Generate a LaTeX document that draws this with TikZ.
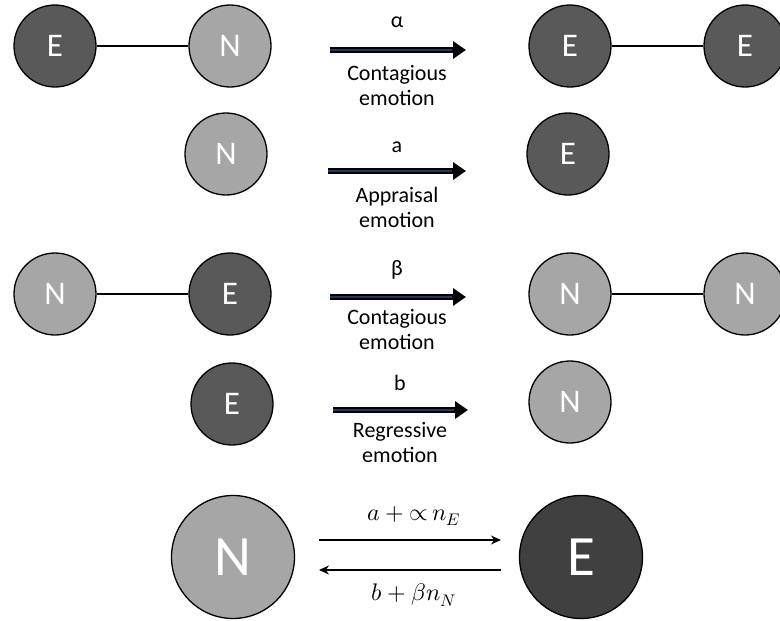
\documentclass[tikz,border=0pt]{standalone}
\usepackage{fontspec}
\setmainfont{Carlito}
\usepackage{unicode-math}
\usetikzlibrary{arrows.meta}
\definecolor{egray}{HTML}{595959}
\definecolor{ebig}{HTML}{404040}
\definecolor{ngray}{HTML}{A6A6A6}
\definecolor{arrin}{HTML}{203864}
\tikzset{
  enode/.style={circle,draw=black,line width=1.3pt,fill=egray,text=white,minimum size=82pt,inner sep=0pt,font=\fontsize{33}{33}\selectfont},
  nnode/.style={circle,draw=black,line width=1.3pt,fill=ngray,text=white,minimum size=82pt,inner sep=0pt,font=\fontsize{33}{33}\selectfont},
  bige/.style={enode,fill=ebig,minimum size=123pt,font=\fontsize{57}{57}\selectfont},
  bign/.style={nnode,minimum size=123pt,font=\fontsize{57}{57}\selectfont},
  link/.style={line width=1.3pt},
  lbl/.style={font=\fontsize{22}{25}\selectfont,align=center},
  rate/.style={font=\fontsize{24}{24}\selectfont},
  fatarrow/.style={line width=6pt,-{Triangle[length=13pt,width=17pt]}},
  fatinner/.style={line width=2pt,arrin},
  thinarrow/.style={line width=1.2pt,-{Stealth[length=10pt,width=9pt]}}
}
\begin{document}
\begin{tikzpicture}[x=1pt,y=-1pt]
\useasboundingbox (0,0) rectangle (780,621);
% row 1
\node[enode] (e1) at (55,46) {E};
\node[nnode] (n1) at (230,46) {N};
\draw[link] (e1) -- (n1);
\coordinate (a1s) at (330,50); \coordinate (a1e) at (466,50); \coordinate (a1i) at (452,50);
\draw[fatarrow] (a1s) -- (a1e);
\draw[fatinner] (a1s) -- (a1i);
\node[lbl] (t1) at (397,22) {α};
\node[lbl] (c1) at (397,86) {Contagious\\emotion};
\node[enode] (e2) at (570,46) {E};
\node[enode] (e3) at (745,46) {E};
\draw[link] (e2) -- (e3);
% row 2
\node[nnode] (n2) at (226,154) {N};
\coordinate (a2s) at (328,171); \coordinate (a2e) at (466,171); \coordinate (a2i) at (452,171);
\draw[fatarrow] (a2s) -- (a2e);
\draw[fatinner] (a2s) -- (a2i);
\node[lbl] (t2) at (397,147) {a};
\node[lbl] (c2) at (397,207) {Appraisal\\emotion};
\node[enode] (e4) at (568,154) {E};
% row 3
\node[nnode] (n3) at (55,294) {N};
\node[enode] (e5) at (230,294) {E};
\draw[link] (n3) -- (e5);
\coordinate (a3s) at (330,297); \coordinate (a3e) at (466,297); \coordinate (a3i) at (452,297);
\draw[fatarrow] (a3s) -- (a3e);
\draw[fatinner] (a3s) -- (a3i);
\node[lbl] (t3) at (397,270) {β};
\node[lbl] (c3) at (397,330) {Contagious\\emotion};
\node[nnode] (n4) at (570,294) {N};
\node[nnode] (n5) at (745,294) {N};
\draw[link] (n4) -- (n5);
% row 4
\node[enode] (e6) at (232,404) {E};
\coordinate (a4s) at (333,410); \coordinate (a4e) at (468,410); \coordinate (a4i) at (454,410);
\draw[fatarrow] (a4s) -- (a4e);
\draw[fatinner] (a4s) -- (a4i);
\node[lbl] (t4) at (400,383) {b};
\node[lbl] (c4) at (400,443) {Regressive\\emotion};
\node[nnode] (n6) at (570,402) {N};
% bottom
\node[bign] (bn) at (233,557) {N};
\node[bige] (be) at (581,557) {E};
\coordinate (b1s) at (319,540); \coordinate (b1e) at (501,540);
\coordinate (b2s) at (501,570); \coordinate (b2e) at (319,570);
\draw[thinarrow] (b1s) -- (b1e);
\draw[thinarrow] (b2s) -- (b2e);
\node[rate] (r1) at (414,516) {$a+{\propto}\,n_E$};
\node[rate] (r2) at (414,595) {$b+\beta n_N$};
\end{tikzpicture}
\end{document}
